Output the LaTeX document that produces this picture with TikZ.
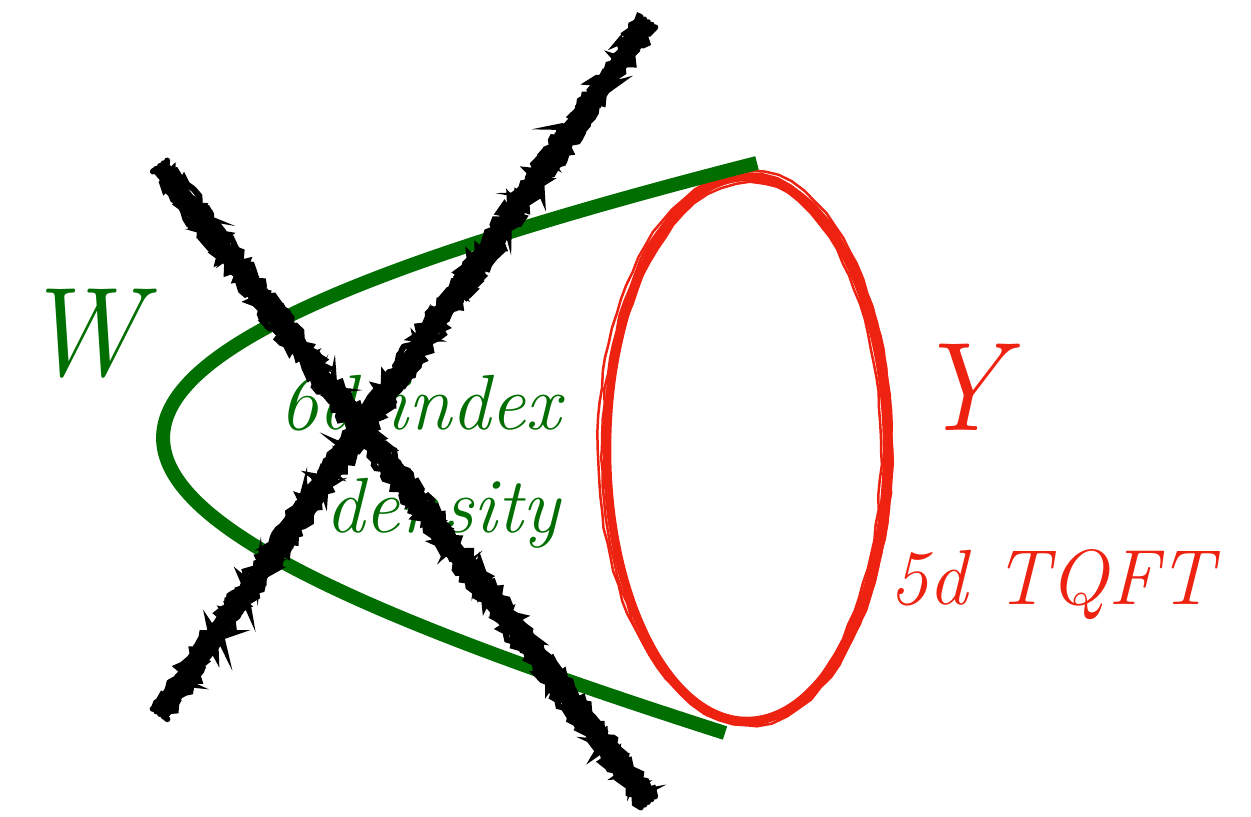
\documentclass[tikz,border=0pt]{standalone}
\usepackage{fontspec}
\DeclareFontShape{OML}{cmm}{m}{it}{<->cmmi10}{}
\usetikzlibrary{calc,decorations.pathmorphing}
\definecolor{wgreen}{RGB}{0,110,0}
\definecolor{yred}{RGB}{238,34,16}
\tikzset{
  lbl/.style={inner sep=0pt, font=\fontsize{44.5}{50}\selectfont\itshape},
  big/.style={inner sep=0pt, xscale=0.88, font=\fontsize{72}{80}\selectfont},
  greenline/.style={draw=wgreen, line width=0.28cm, line cap=butt},
  chalk/.style={draw=black, line width=0.12cm, line cap=round,
    decorate, decoration={random steps, segment length=0.08cm, amplitude=0.08cm}},
  chalkcore/.style={draw=black, line width=0.34cm, line cap=butt},
  redcore/.style={draw=yred, line width=0.17cm},
  redrough/.style={draw=yred, line width=0.05cm,
    decorate, decoration={random steps, segment length=0.3cm, amplitude=0.02cm}},
}
\begin{document}
\begin{tikzpicture}[x=0.02cm, y=-0.02cm]
\pgfmathsetseed{4242}
\useasboundingbox (0,0) rectangle (1251,816);

% red ellipse (Y)
\coordinate (ec) at (747,449);
\draw[redcore] (ec) ellipse [x radius=140, y radius=272];
\foreach \dx/\dy/\rx/\ry in {0/0/145/275, -2/1/136/270, 2/-1/143/277, 3/2/141/268, -3/-2/146/272}
  \draw[redrough] ($(ec)+(\dx,\dy)$) ellipse [x radius=\rx, y radius=\ry];

% green curve (W)
\coordinate (gtop) at (757,163);
\coordinate (gbot) at (725,733);
\draw[greenline] (gtop) .. controls (-87,378) and (29,510) .. (gbot);

% labels
\node[big, text=wgreen, anchor=base west] (W) at (40,375) {$W$};
\node[big, text=yred, anchor=base west] (Y) at (935,430) {$Y$};
\node[lbl, text=wgreen, anchor=base east] (idx) at (561,429) {6d index};
\node[lbl, text=wgreen, anchor=base east] (dens) at (560,532) {density};
\node[lbl, text=yred, anchor=base west] (tqft) at (889,604) {5d TQFT};

% black cross
\coordinate (a1) at (160,166);
\coordinate (b1) at (648,802);
\coordinate (a2) at (160,714);
\coordinate (b2) at (648,22);
\draw[chalkcore] (a1) -- (b1);
\draw[chalkcore] (a2) -- (b2);
\foreach \o in {-0.18,-0.09,0,0.09,0.18}{
  \draw[chalk] ($(a1)!\o cm!90:(b1)$) -- ($(b1)!\o cm!-90:(a1)$);
  \draw[chalk] ($(a2)!\o cm!90:(b2)$) -- ($(b2)!\o cm!-90:(a2)$);
}
\end{tikzpicture}
\end{document}
